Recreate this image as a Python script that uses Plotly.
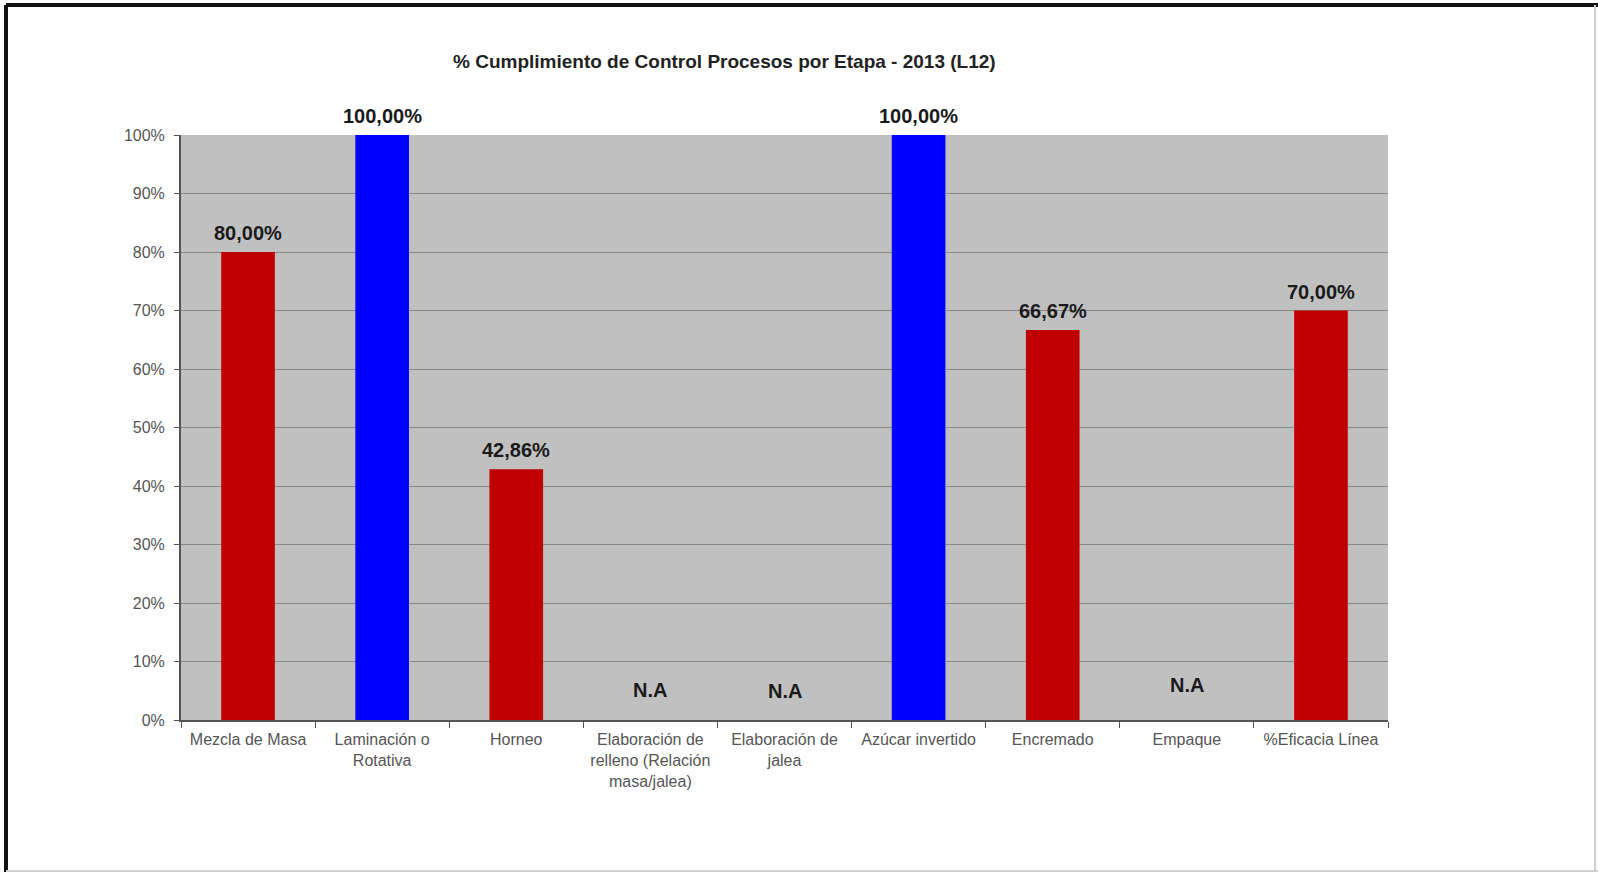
import plotly.graph_objects as go

# Process stages (x categories)
etapas = [
    "Mezcla de Masa",
    "Laminación o<br>Rotativa",
    "Horneo",
    "Elaboración de<br>relleno (Relación<br>masa/jalea)",
    "Elaboración de<br>jalea",
    "Azúcar invertido",
    "Encremado",
    "Empaque",
    "%Eficacia Línea",
]
# Compliance fraction per stage (None = not applicable)
cumplimiento = [0.80, 1.00, 0.4286, None, None, 1.00, 0.6667, None, 0.70]
# Bar colour per stage
colores = ["#C00000", "#0000FF", "#C00000", "#C00000", "#C00000",
           "#0000FF", "#C00000", "#C00000", "#C00000"]
y_ticks = [i / 10 for i in range(11)]
y_tick_labels = [f"{i * 10}%" for i in range(11)]

W, H = 1598, 872
L, R, T, B = 181, 210, 135, 152
FONT = "Liberation Sans, Arial"

fig = go.Figure()
fig.add_trace(go.Bar(
    x=etapas,
    y=[v if v is not None else 0 for v in cumplimiento],
    marker=dict(color=colores, line=dict(width=0)),
    hoverinfo="skip",
))

annotations = []
for cat, v in zip(etapas, cumplimiento):
    if v is not None:
        txt = f"{v * 100:.2f}%".replace(".", ",")
        annotations.append(dict(
            x=cat, y=v, xref="x", yref="y", text=f"<b>{txt}</b>",
            showarrow=False, yanchor="middle", yshift=19,
            font=dict(family=FONT, size=20, color="#1a1a1a"),
        ))

# "N.A" markers for stages without data
na_pos = {etapas[3]: 0.052, etapas[4]: 0.049, etapas[7]: 0.059}
for cat, yy in na_pos.items():
    annotations.append(dict(
        x=cat, y=yy, xref="x", yref="y", text="<b>N.A</b>",
        showarrow=False, yanchor="middle",
        font=dict(family=FONT, size=20, color="#1a1a1a"),
    ))

pw = W - L - R
ph = H - T - B

def px_x(p):
    return (p - L) / pw

def px_y(p):
    return 1 - (p - T) / ph

annotations.append(dict(
    x=px_x(724), y=px_y(61), xref="paper", yref="paper",
    text="<b>% Cumplimiento de Control Procesos por Etapa - 2013 (L12)</b>",
    showarrow=False, xanchor="center", yanchor="middle",
    font=dict(family=FONT, size=19, color="#222222"),
))

shapes = [
    # outer frame: dark top/left edges, light right/bottom edges
    dict(type="line", xref="paper", yref="paper", x0=px_x(6), x1=px_x(1598),
         y0=px_y(5), y1=px_y(5), line=dict(color="#111111", width=4)),
    dict(type="line", xref="paper", yref="paper", x0=px_x(6), x1=px_x(6),
         y0=px_y(5), y1=px_y(872), line=dict(color="#111111", width=4)),
    dict(type="line", xref="paper", yref="paper", x0=px_x(1595), x1=px_x(1595),
         y0=px_y(5), y1=px_y(871), line=dict(color="#d0d0d0", width=2)),
    dict(type="line", xref="paper", yref="paper", x0=px_x(6), x1=px_x(1598),
         y0=px_y(871), y1=px_y(871), line=dict(color="#d0d0d0", width=2)),
]

fig.update_layout(
    width=W, height=H,
    margin=dict(l=L, r=R, t=T, b=B, pad=0),
    paper_bgcolor="white",
    plot_bgcolor="#C0C0C0",
    bargap=0.6,
    showlegend=False,
    annotations=annotations,
    shapes=shapes,
    font=dict(family=FONT, size=16, color="#555555"),
)
fig.update_xaxes(
    type="category",
    tickson="boundaries",
    ticks="outside", ticklen=6, tickcolor="#555555", tickwidth=1,
    showline=True, linecolor="#555555", linewidth=2,
    showgrid=False,
    tickfont=dict(family=FONT, size=16, color="#555555"),
    tickangle=0,
    ticklabelstandoff=4,
)
fig.update_yaxes(
    range=[0, 1],
    tickvals=y_ticks, ticktext=y_tick_labels,
    ticks="outside", ticklen=5, tickcolor="#555555",
    showline=True, linecolor="#555555", linewidth=2,
    showgrid=True, gridcolor="#888888", gridwidth=1,
    zeroline=False,
    tickfont=dict(family=FONT, size=16, color="#555555"),
    ticklabelstandoff=6,
)

fig.write_html("out.html")
